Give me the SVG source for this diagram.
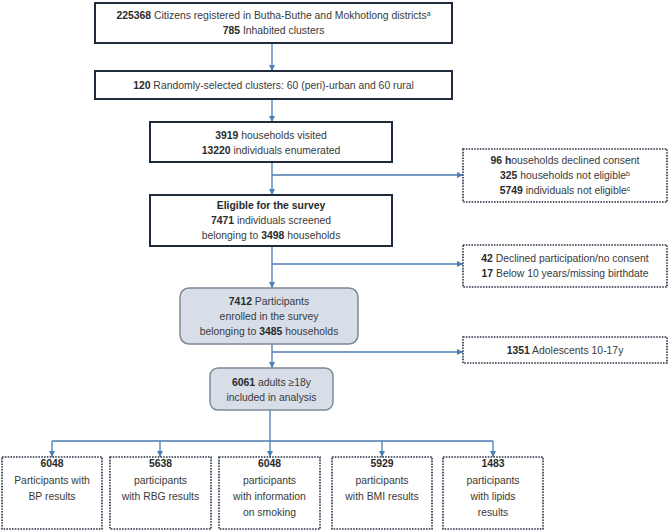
<svg xmlns="http://www.w3.org/2000/svg" width="669" height="532" viewBox="0 0 669 532" xml:space="preserve">
<defs>
<style>
text{font-family:"Liberation Sans",Arial,sans-serif;font-size:10.4px;fill:#3a3a3a;text-anchor:middle}
.b{font-weight:bold;fill:#2a2a2a}
.sup{font-size:7px}
.solid{fill:#fff;stroke:#1f2a3c;stroke-width:2}
.round{fill:#d7dee8;stroke:#7d8897;stroke-width:1.5}
.dot{fill:#fff;stroke:#2a3344;stroke-width:1.6;stroke-dasharray:1.6 1.2}
.ln{fill:none;stroke:#4a7db3;stroke-width:1.3}
</style>
<marker id="ah" viewBox="0 0 10 10" refX="10" refY="5" markerWidth="6" markerHeight="6" markerUnits="userSpaceOnUse" orient="auto">
<path d="M0,0 L10,5 L0,10 z" fill="#4a7db3"/>
</marker>
</defs>
<rect width="669" height="532" fill="#fff"/>
<g id="connectors">
<line class="ln" x1="272" y1="43" x2="272" y2="71" marker-end="url(#ah)"/>
<line class="ln" x1="272" y1="99" x2="272" y2="122" marker-end="url(#ah)"/>
<line class="ln" x1="272" y1="162" x2="272" y2="195" marker-end="url(#ah)"/>
<line class="ln" x1="272" y1="175" x2="463" y2="175" marker-end="url(#ah)"/>
<line class="ln" x1="272" y1="246" x2="272" y2="288" marker-end="url(#ah)"/>
<line class="ln" x1="272" y1="264" x2="463" y2="264" marker-end="url(#ah)"/>
<line class="ln" x1="272" y1="344" x2="272" y2="368" marker-end="url(#ah)"/>
<line class="ln" x1="272" y1="352" x2="463" y2="352" marker-end="url(#ah)"/>
<line class="ln" x1="270" y1="410" x2="270" y2="457" marker-end="url(#ah)"/>
<polyline class="ln" points="52,441 493,441"/>
<line class="ln" x1="52" y1="441" x2="52" y2="457" marker-end="url(#ah)"/>
<line class="ln" x1="160" y1="441" x2="160" y2="457" marker-end="url(#ah)"/>
<line class="ln" x1="382" y1="441" x2="382" y2="457" marker-end="url(#ah)"/>
<line class="ln" x1="493" y1="441" x2="493" y2="457" marker-end="url(#ah)"/>
</g>
<g id="n1">
<rect class="solid" x="95" y="3" width="357" height="40"/>
<text x="273.5" y="19"><tspan class="b">225368</tspan>  Citizens registered in Butha-Buthe and Mokhotlong districts<tspan class="sup" baseline-shift="super">a</tspan></text>
<text x="273.5" y="34"><tspan class="b">785</tspan>  Inhabited clusters</text>
</g>
<g id="n2">
<rect class="solid" x="95" y="71" width="357" height="28"/>
<text x="273.5" y="89"><tspan class="b">120</tspan>  Randomly-selected clusters: 60 (peri)-urban and 60 rural</text>
</g>
<g id="n3">
<rect class="solid" x="150" y="122" width="242" height="40"/>
<text x="271" y="139"><tspan class="b">3919</tspan>  households visited</text>
<text x="271" y="154"><tspan class="b">13220</tspan> individuals enumerated</text>
</g>
<g id="n4">
<rect class="solid" x="150" y="195" width="242" height="51"/>
<text x="271" y="209" class="b">Eligible for the survey</text>
<text x="271" y="224"><tspan class="b">7471</tspan> individuals screened</text>
<text x="271" y="239">belonging to <tspan class="b">3498</tspan> households</text>
</g>
<g id="n5">
<rect class="round" x="180" y="288" width="178" height="56" rx="9"/>
<text x="269" y="305"><tspan class="b">7412</tspan> Participants</text>
<text x="269" y="320">enrolled in the survey</text>
<text x="269" y="335">belonging to <tspan class="b">3485</tspan> households</text>
</g>
<g id="n6">
<rect class="round" x="210" y="368" width="123" height="42" rx="8"/>
<text x="271.5" y="386"><tspan class="b">6061</tspan> adults ≥18y</text>
<text x="271.5" y="401">included in analysis</text>
</g>
<g id="x1">
<rect class="dot" x="463" y="149" width="204" height="53"/>
<text x="565" y="164"><tspan class="b">96 h</tspan>ouseholds declined consent</text>
<text x="565" y="179"><tspan class="b">325</tspan> households not eligible<tspan class="sup" baseline-shift="super">b</tspan></text>
<text x="565" y="194"><tspan class="b">5749</tspan> individuals not eligible<tspan class="sup" baseline-shift="super">c</tspan></text>
</g>
<g id="x2">
<rect class="dot" x="463" y="245" width="204" height="42"/>
<text x="565" y="262"><tspan class="b">42</tspan>  Declined participation/no consent</text>
<text x="565" y="277"><tspan class="b">17</tspan>  Below 10 years/missing birthdate</text>
</g>
<g id="x3">
<rect class="dot" x="463" y="337" width="204" height="26"/>
<text x="565" y="354"><tspan class="b">1351</tspan> Adolescents 10-17y</text>
</g>
<g id="b1">
<rect class="dot" x="2" y="457" width="100" height="72"/>
<text x="52" y="467" class="b">6048</text>
<text x="52" y="484">Participants with</text>
<text x="52" y="500">BP results</text>
</g>
<g id="b2">
<rect class="dot" x="110" y="457" width="101" height="72"/>
<text x="160.5" y="467" class="b">5638</text>
<text x="160.5" y="484">participants</text>
<text x="160.5" y="500">with RBG results</text>
</g>
<g id="b3">
<rect class="dot" x="219" y="457" width="101" height="72"/>
<text x="269.5" y="467" class="b">6048</text>
<text x="269.5" y="484">participants</text>
<text x="269.5" y="500">with information</text>
<text x="269.5" y="516">on smoking</text>
</g>
<g id="b4">
<rect class="dot" x="332" y="457" width="100" height="72"/>
<text x="382" y="467" class="b">5929</text>
<text x="382" y="484">participants</text>
<text x="382" y="500">with BMI results</text>
</g>
<g id="b5">
<rect class="dot" x="443" y="457" width="100" height="72"/>
<text x="493" y="467" class="b">1483</text>
<text x="493" y="484">participants</text>
<text x="493" y="500">with lipids</text>
<text x="493" y="516">results</text>
</g>
</svg>
